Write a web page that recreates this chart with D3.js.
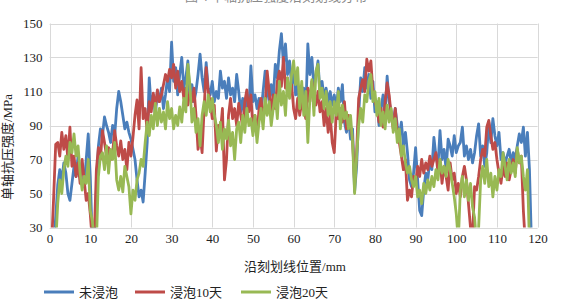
<!DOCTYPE html>
<html>
<head>
<meta charset="utf-8">
<script src="https://cdn.jsdelivr.net/npm/d3@7/dist/d3.min.js"></script>
<style>
  body { margin: 0; background: #fff; }
  text { font-family: "Liberation Serif", "Noto Sans CJK SC", serif; fill: #222; }
</style>
</head>
<body>
<svg id="chart" width="571" height="303"></svg>
<script>
// readings every 0.5 mm from 0 to 119.5 mm (values under 30 sit below the axis)
var stepMm = 0.5;

var unsoaked = [
  20, 20, 20, 36, 55, 64, 58, 68, 62, 50,
  46, 56, 66, 60, 72, 64, 56, 54, 70, 85,
  60, 22, 20, 52, 78, 88, 84, 95, 90, 86,
  80, 90, 84, 100, 110, 104, 96, 88, 92, 86,
  82, 76, 70, 58, 48, 52, 45, 62, 80, 118,
  100, 108, 96, 110, 104, 112, 100, 108, 118, 110,
  139, 116, 124, 108, 120, 130, 112, 118, 128, 106,
  114, 104, 110, 120, 132, 118, 110, 127, 112, 108,
  116, 104, 110, 106, 122, 112, 116, 106, 118, 108,
  112, 104, 120, 110, 98, 106, 94, 104, 100, 125,
  104, 108, 100, 106, 98, 110, 122, 112, 104, 114,
  106, 126, 118, 134, 144, 126, 138, 120, 128, 114,
  122, 108, 114, 100, 106, 112, 98, 138, 120, 130,
  112, 120, 128, 108, 116, 106, 112, 104, 110, 102,
  108, 100, 112, 104, 114, 92, 86, 94, 82, 88,
  51, 66, 96, 118, 110, 124, 112, 120, 106, 116,
  98, 104, 90, 100, 108, 96, 119, 104, 98, 92,
  100, 90, 84, 92, 78, 86, 74, 58, 54, 62,
  77, 58, 40, 37, 52, 62, 58, 70, 64, 83,
  72, 66, 87, 70, 76, 64, 82, 78, 72, 84,
  74, 78, 80, 89, 72, 78, 70, 76, 68, 74,
  84, 91, 72, 78, 66, 74, 92, 80, 94, 84,
  78, 86, 70, 74, 68, 72, 76, 68, 74, 70,
  78, 85, 80, 89, 72, 86, 64, 20, 20, 20
];

var soaked10 = [
  20, 20, 48, 79, 80, 72, 86, 76, 84, 70,
  89, 66, 72, 60, 68, 56, 70, 58, 46, 50,
  38, 22, 25, 64, 77, 70, 87, 80, 72, 77,
  70, 74, 87, 78, 72, 81, 70, 76, 64, 80,
  72, 83, 96, 105, 88, 124, 94, 100, 86, 104,
  98, 109, 100, 111, 104, 108, 114, 120, 116, 123,
  118, 126, 112, 122, 110, 116, 106, 112, 102, 110,
  104, 112, 96, 76, 84, 74, 100, 124, 110, 104,
  94, 102, 75, 90, 86, 100, 58, 70, 96, 106,
  94, 100, 90, 103, 96, 89, 104, 111, 98, 108,
  88, 96, 84, 100, 106, 94, 102, 122, 110, 98,
  108, 100, 116, 122, 113, 130, 112, 118, 108, 114,
  100, 94, 106, 96, 104, 100, 94, 112, 104, 116,
  108, 102, 110, 98, 104, 90, 100, 86, 96, 80,
  74, 98, 94, 100, 92, 104, 88, 96, 90, 82,
  56, 74, 106, 112, 117, 110, 129, 122, 128, 110,
  104, 100, 92, 100, 89, 104, 115, 108, 96, 88,
  100, 86, 80, 72, 64, 70, 46, 52, 48, 60,
  56, 66, 60, 70, 62, 68, 64, 72, 66, 70,
  74, 62, 70, 56, 66, 60, 52, 68, 58, 62,
  50, 56, 48, 60, 66, 58, 44, 30, 25, 54,
  52, 60, 70, 76, 72, 89, 93, 84, 76, 80,
  70, 62, 56, 66, 60, 68, 58, 64, 70, 62,
  76, 68, 72, 40, 20, 20, 20, 20, 20, 20
];

var soaked20 = [
  20, 20, 20, 20, 44, 58, 50, 64, 72, 66,
  80, 74, 85, 72, 78, 62, 52, 60, 56, 70,
  40, 34, 22, 20, 60, 72, 74, 64, 78, 62,
  76, 70, 80, 58, 52, 60, 51, 66, 60, 54,
  38, 52, 46, 58, 62, 70, 66, 80, 92, 84,
  96, 88, 103, 90, 100, 92, 98, 88, 104, 94,
  100, 88, 96, 90, 101, 92, 106, 98, 126, 114,
  92, 100, 86, 94, 78, 96, 104, 96, 108, 98,
  106, 96, 90, 80, 92, 76, 88, 82, 93, 78,
  86, 70, 88, 92, 80, 96, 86, 100, 90, 94,
  84, 96, 80, 92, 100, 88, 106, 96, 104, 90,
  100, 108, 94, 116, 102, 110, 96, 118, 106, 120,
  128, 114, 124, 100, 116, 96, 110, 80, 106, 117,
  96, 122, 126, 106, 112, 100, 110, 96, 104, 92,
  104, 96, 110, 88, 102, 94, 98, 88, 96, 80,
  50, 72, 90, 100, 92, 108, 104, 116, 120, 104,
  110, 96, 106, 90, 98, 88, 102, 92, 100, 86,
  94, 80, 88, 72, 78, 68, 62, 66, 58, 54,
  60, 48, 52, 44, 56, 50, 58, 52, 60, 54,
  64, 58, 70, 62, 66, 60, 70, 64, 56, 48,
  38, 22, 52, 60, 48, 58, 46, 56, 42, 36,
  20, 30, 58, 66, 56, 70, 54, 62, 48, 60,
  52, 64, 60, 74, 66, 58, 70, 62, 68, 60,
  77, 68, 72, 60, 52, 64, 20, 20, 20, 20
];

var seriesNames = ["未浸泡", "浸泡10天", "浸泡20天"];
var seriesColors = ["#4a7ebb", "#be4b48", "#98b954"];
var xTicks = d3.range(0, 121, 10);
var yTicks = [30, 50, 70, 90, 110, 130, 150];

var svg = d3.select("#chart");
svg.append("rect").attr("width", 571).attr("height", 303).attr("fill", "#fff");

// caption above the chart, mostly cut off by the page edge
svg.append("text")
  .attr("x", 276).attr("y", 1)
  .attr("text-anchor", "middle")
  .style("font-size", "13px")
  .style("fill", "#8a8a8a")
  .text("图 4   单轴抗压强度沿刻划线分布");

var x = d3.scaleLinear().domain([0, 120]).range([49.6, 537.6]);
var y = d3.scaleLinear().domain([30, 150]).range([227.5, 23.5]);

// grid
svg.append("g")
  .selectAll("line")
  .data(yTicks)
  .enter()
  .append("line")
  .attr("x1", x(0)).attr("x2", x(120))
  .attr("y1", d => Math.round(y(d)) + 0.5).attr("y2", d => Math.round(y(d)) + 0.5)
  .attr("stroke", "#d9d9d9");

svg.append("g")
  .selectAll("line")
  .data(xTicks)
  .enter()
  .append("line")
  .attr("x1", d => Math.round(x(d)) + 0.5).attr("x2", d => Math.round(x(d)) + 0.5)
  .attr("y1", y(150)).attr("y2", y(30))
  .attr("stroke", "#d9d9d9");

// axes, labels only
var xAxis = svg.append("g")
  .attr("transform", "translate(0," + y(30) + ")")
  .call(d3.axisBottom(x).tickValues(xTicks).tickSize(0).tickPadding(6));
var yAxis = svg.append("g")
  .attr("transform", "translate(" + x(0) + ",0)")
  .call(d3.axisLeft(y).tickValues(yTicks).tickSize(0).tickPadding(7));
[xAxis, yAxis].forEach(function(g) {
  g.select(".domain").remove();
  g.selectAll("text")
    .style("font-family", "'Liberation Serif', serif")
    .style("font-size", "13px")
    .style("fill", "#222");
});

// clip the traces to the plot box
svg.append("clipPath").attr("id", "plot-clip")
  .append("rect")
  .attr("x", x(0)).attr("y", y(150))
  .attr("width", x(120) - x(0)).attr("height", y(30) - y(150));

var line = d3.line()
  .x((d, i) => x(i * stepMm))
  .y(d => y(d));

var allSeries = [unsoaked, soaked10, soaked20];
svg.append("g")
  .attr("clip-path", "url(#plot-clip)")
  .selectAll("path")
  .data(allSeries)
  .enter()
  .append("path")
  .attr("d", line)
  .attr("fill", "none")
  .attr("stroke", (d, i) => seriesColors[i])
  .attr("stroke-width", 2.8)
  .attr("stroke-linejoin", "round");

// axis titles
svg.append("text")
  .attr("transform", "translate(12,147) rotate(-90)")
  .attr("text-anchor", "middle")
  .style("font-size", "13px")
  .text("单轴抗压强度/MPa");

svg.append("text")
  .attr("x", 295).attr("y", 271)
  .attr("text-anchor", "middle")
  .style("font-size", "13px")
  .text("沿刻划线位置/mm");

// legend
var legendX = [44, 135, 241];
var legend = svg.append("g")
  .selectAll("g")
  .data(seriesNames)
  .enter()
  .append("g")
  .attr("transform", (d, i) => "translate(" + legendX[i] + ",292)");
legend.append("line")
  .attr("x1", 0).attr("x2", 30)
  .attr("stroke", (d, i) => seriesColors[i])
  .attr("stroke-width", 3);
legend.append("text")
  .attr("x", 35).attr("y", 5)
  .style("font-size", "13px")
  .text(d => d);
</script>
</body>
</html>
